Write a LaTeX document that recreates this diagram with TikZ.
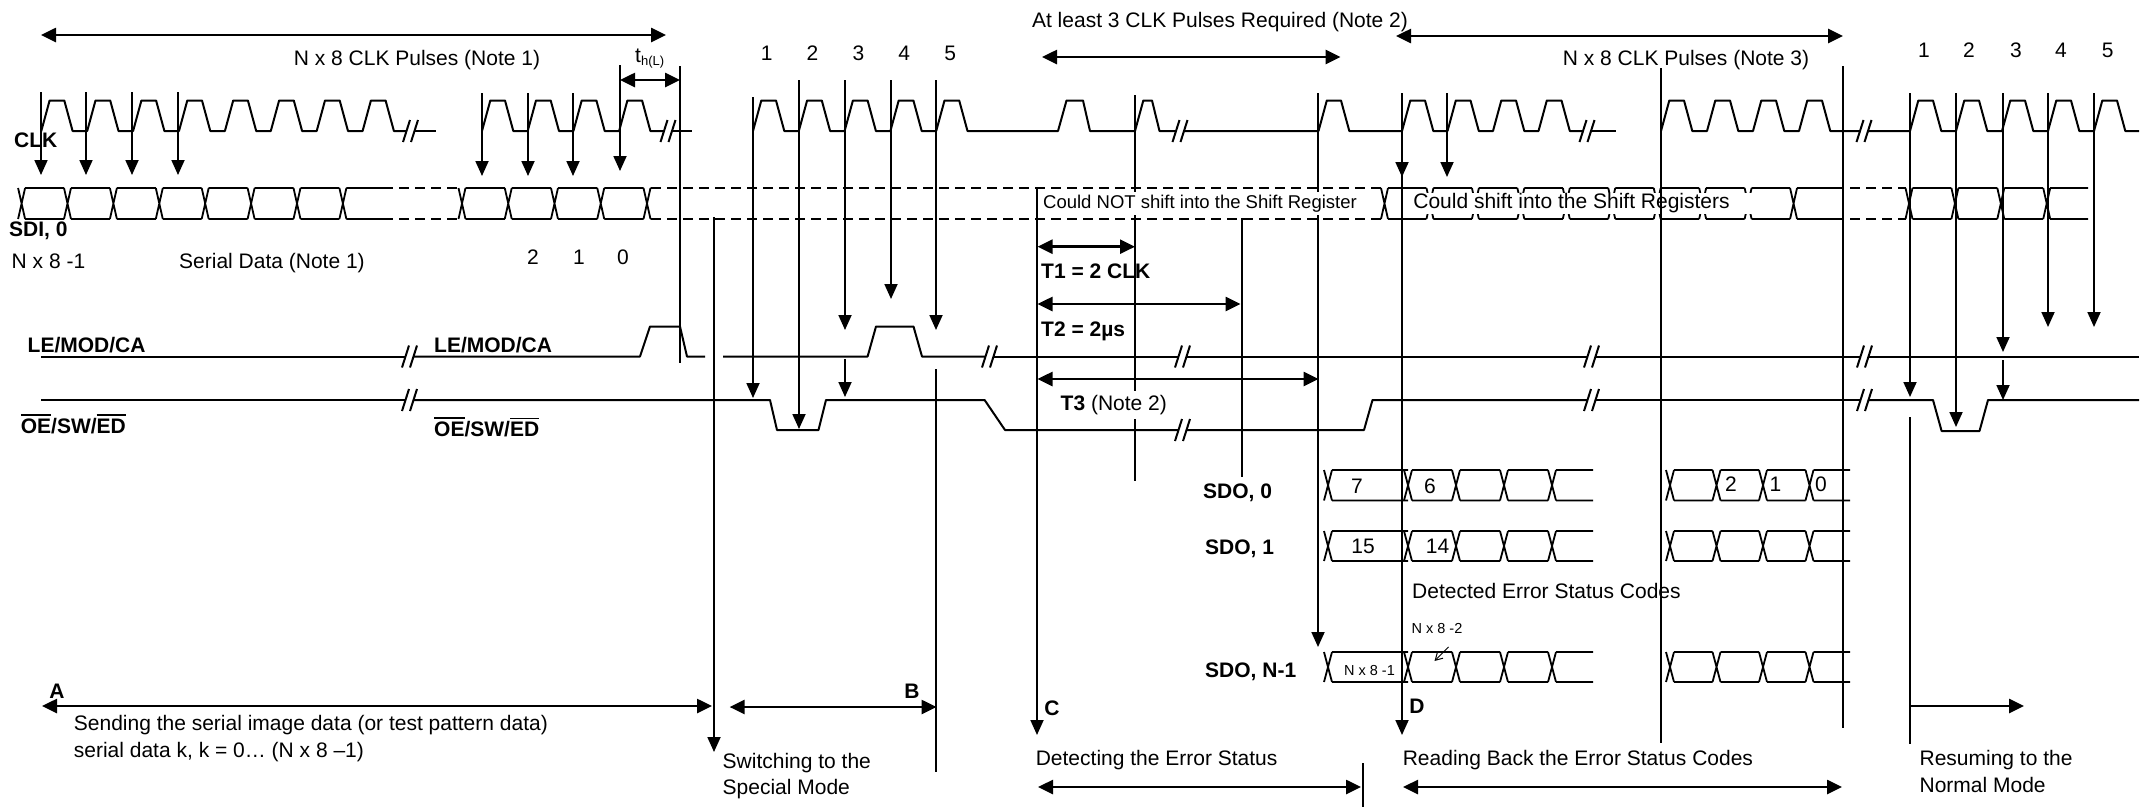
\documentclass[tikz,border=0pt]{standalone}
\usepackage{fontspec}
\setmainfont{Liberation Sans}
\usetikzlibrary{arrows.meta}
\newcommand\fsA{\fontsize{21}{25}\selectfont}
\newcommand\fsM{\fontsize{18.5}{22}\selectfont}
\newcommand\fsS{\fontsize{14.5}{17}\selectfont}
\newcommand\ovl[1]{\vbox{\hrule height 1.8pt\kern 2.6pt\hbox{#1}}}
\newcommand\wbrk[2]{\draw[wave] (#1,#2+11) -- (#1+7,#2-11) (#1+8,#2+11) -- (#1+15,#2-11);}
% bus: top, bottom, half width, start, period, count, end
\newcommand\pbus[7]{%
  \foreach \k in {1,...,#6} {%
    \pgfmathsetmacro\bcx{#4+#5*(\k-1)}%
    \pgfmathsetmacro\bnx{ifthenelse(\k==#6, #7+#3, #4+#5*\k)}%
    \draw[bus] (\bcx-#3,#1) -- (\bcx+#3,#2) (\bcx-#3,#2) -- (\bcx+#3,#1)
               (\bcx+#3,#1) -- (\bnx-#3,#1) (\bcx+#3,#2) -- (\bnx-#3,#2);
  }}
\begin{document}
\begin{tikzpicture}[x=1pt,y=-1pt,
  wave/.style={line width=2pt, line join=round},
  bus/.style={line width=1.8pt, line join=round},
  dsh/.style={line width=1.8pt, dash pattern=on 10pt off 6pt},
  vl/.style={line width=1.8pt},
  arr/.style={vl,-{Triangle[width=13pt,length=15pt]}},
  darr/.style={line width=2.6pt,{Triangle[width=14pt,length=15pt]}-{Triangle[width=14pt,length=15pt]}},
  rarr/.style={line width=2.6pt,-{Triangle[width=14pt,length=15pt]}},
  lbl/.style={inner sep=0pt, text height=15pt, text depth=0pt, font=\fsA},
  blbl/.style={lbl, font=\fsA\bfseries},
]
\useasboundingbox (0,0) rectangle (2145,807);

% ---------------- top annotations
\draw[darr] (41,35) -- (666,35);
\node[lbl] (n1) at (417,58) {N x 8 CLK Pulses (Note 1)};
\node[inner sep=0pt, anchor=base west, font=\fsA] (thl) at (635,62) {t\raisebox{-3pt}{\fontsize{13}{13}\selectfont h(L)}};
\draw[darr] (620,80) -- (680,80);
\node[lbl] (n2) at (1220,20) {At least 3 CLK Pulses Required (Note 2)};
\draw[darr] (1042,57) -- (1340.5,57);
\draw[darr] (1396,36) -- (1843,36);
\node[lbl] (n3) at (1686,58) {N x 8 CLK Pulses (Note 3)};
\foreach \x/\t in {766.6/1,812.5/2,858.4/3,904.3/4,950.2/5} \node[lbl] (m\t) at (\x,53) {\t};
\foreach \x/\t in {1924/1,1969/2,2016/3,2061/4,2107.6/5} \node[lbl] (r\t) at (\x,50) {\t};

% ---------------- CLK
\draw[wave] (41.3,131) \foreach \i in {1,...,7}{ -- ++(8.3,-30.5) -- ++(14.7,0) -- ++(8.3,30.5) -- ++(14.6,0) }
  -- ++(8.3,-30.5) -- ++(14.7,0) -- ++(8.3,30.5) -- (406.5,131);
\wbrk{403}{131}
\draw[wave] (414.5,131) -- (436,131);
\draw[wave] (482,131) \foreach \i in {1,...,3}{ -- ++(8.3,-30.5) -- ++(14.7,0) -- ++(8.3,30.5) -- ++(14.4,0) }
  -- ++(8.3,-30.5) -- ++(14.7,0) -- ++(8.3,30.5) -- (664,131);
\wbrk{660.5}{131}
\draw[wave] (672,131) -- (692,131);
\draw[wave] (753,131) \foreach \i in {1,...,4}{ -- ++(8.3,-30.5) -- ++(14.7,0) -- ++(8.3,30.5) -- ++(14.5,0) }
  -- ++(8.3,-30.5) -- ++(14.7,0) -- ++(8.3,30.5) -- (1058,131) -- (1066.5,100.5) -- (1083,100.5) -- (1090,131)
  -- (1135,131) -- (1143.3,100.5) -- (1152,100.5) -- (1159.5,131) -- (1176,131);
\wbrk{1172.5}{131}
\draw[wave] (1184,131) -- (1318.5,131) -- (1326.8,100.5) -- (1341,100.5) -- (1349.3,131) -- (1402,131)
  \foreach \i in {1,...,3}{ -- ++(8.3,-30.5) -- ++(14.7,0) -- ++(8.3,30.5) -- ++(14.2,0) }
  -- ++(8.3,-30.5) -- ++(14.7,0) -- ++(8.3,30.5) -- (1583,131);
\wbrk{1579.5}{131}
\draw[wave] (1591,131) -- (1616,131);
\draw[wave] (1661,131) \foreach \i in {1,...,3}{ -- ++(8.3,-30.5) -- ++(14.7,0) -- ++(8.3,30.5) -- ++(14.7,0) }
  -- ++(8.3,-30.5) -- ++(14.7,0) -- ++(8.3,30.5) -- (1860,131);
\wbrk{1856.5}{131}
\draw[wave] (1868,131) -- (1910,131) \foreach \i in {1,...,4}{ -- ++(8.3,-30.5) -- ++(14.7,0) -- ++(8.3,30.5) -- ++(14.7,0) }
  -- ++(8.3,-30.5) -- ++(14.7,0) -- ++(8.3,30.5) -- (2139,131);
\node[blbl, anchor=west] (clk) at (14,140) {CLK};

% ---------------- SDI
\pbus{188}{219}{3.5}{21.6}{45.9}{8}{383}
\draw[dsh] (383,188) -- (458.5,188) (383,219) -- (458.5,219);
\pbus{188}{219}{3.5}{462}{46.25}{5}{651}
\draw[dsh] (651,188) -- (1381,188) (651,219) -- (1381,219);
\pbus{188}{219}{3.5}{1384.5}{45.45}{10}{1834}
\draw[dsh] (1834,188) -- (1905.5,188) (1834,219) -- (1905.5,219);
\pbus{188}{219}{3.5}{1909}{45.9}{4}{2088}
\node[blbl, anchor=west] (sdi) at (9,229) {SDI, 0};
\node[lbl, anchor=west] (nx81) at (11.5,261) {N x 8 -1};
\node[lbl, anchor=west] (sd) at (179,261) {Serial Data (Note 1)};
\foreach \x/\t in {533/2,579/1,623/0} \node[lbl] (s\t) at (\x,257) {\t};

% ---------------- LE / OE
\draw[wave] (41,356.5) -- (405.5,356.5);
\wbrk{402}{356.5}
\draw[wave] (413.5,356.5) -- (640,356.5) -- (650,326.5) -- (680,326.5) -- (687,356.5) -- (705,356.5);
\draw[wave] (723,356.5) -- (867.6,356.5) -- (876,326.5) -- (913.5,326.5) -- (922,356.5) -- (985.5,356.5);
\wbrk{982}{356.5}
\draw[wave] (993.5,356.5) -- (1178.5,356.5);
\wbrk{1175}{356.5}
\draw[wave] (1186.5,356.5) -- (1587.5,356.5);
\wbrk{1584}{356.5}
\draw[wave] (1595.5,356.5) -- (1860.5,356.5);
\wbrk{1857}{356.5}
\draw[wave] (1868.5,356.5) -- (2139,356.5);

\draw[wave] (41,400) -- (405.5,400);
\wbrk{402}{400}
\draw[wave] (413.5,400) -- (770,400) -- (777,430) -- (818.5,430) -- (826,400) -- (984.6,400) -- (1005,430) -- (1178.5,430);
\wbrk{1175}{430}
\draw[wave] (1186.5,430) -- (1364,430) -- (1372.5,400) -- (1587.5,400);
\wbrk{1584}{400}
\draw[wave] (1595.5,400) -- (1860.5,400);
\wbrk{1857}{400}
\draw[wave] (1868.5,400) -- (1933,400) -- (1941.6,431) -- (1979.5,431) -- (1988,400) -- (2139,400);

\node[blbl, anchor=west] (le1) at (27.5,345) {LE/MOD/CA};
\node[blbl, anchor=west] (le2) at (434,345) {LE/MOD/CA};
\node[blbl, anchor=west] (oe1) at (20.7,425.5) {\ovl{OE}/SW/\ovl{ED}};
\node[blbl, anchor=west] (oe2) at (434,429) {\ovl{OE}/SW/\ovl{ED}};

% ---------------- vertical lines
\foreach \x in {41,86,132,178} \draw[arr] (\x,92) -- (\x,175);
\foreach \x in {482,528,573} \draw[arr] (\x,93) -- (\x,176);
\draw[arr] (620,65) -- (620,171);
\draw[vl] (680,66) -- (680,363);
\draw[arr] (714,217) -- (714,752);
\draw[arr] (753,97) -- (753,398);
\draw[arr] (799,80) -- (799,429);
\draw[arr] (845,80) -- (845,330);
\draw[arr] (845,359) -- (845,397);
\draw[arr] (891,80) -- (891,299);
\draw[arr] (936,80) -- (936,330);
\draw[vl] (936,369) -- (936,772);
\draw[arr] (1037,188) -- (1037,735);
\draw[vl] (1135,95) -- (1135,481);
\draw[vl] (1242,218) -- (1242,477);
\draw[arr] (1318,93) -- (1318,647);
\draw[arr] (1447,93) -- (1447,177);
\draw[arr] (1910,93) -- (1910,397);
\draw[vl] (1910,417) -- (1910,744);
\draw[arr] (1956,93) -- (1956,427);
\draw[arr] (2003,93) -- (2003,352);
\draw[arr] (2003,360) -- (2003,400);
\draw[arr] (2048,93) -- (2048,327);
\draw[arr] (2094,93) -- (2094,327);
\draw[vl] (1843,66) -- (1843,728);
\draw[vl] (1363,763) -- (1363,807);

% texts with white background in the SDI band
\node[fill=white, inner xsep=3pt, inner ysep=2.5pt, text height=14pt, text depth=4pt, anchor=base, font=\fsM] (cns) at (1200,208.3) {Could NOT shift into the Shift Register};
\fill[white] (1389,193) rectangle (1787,214);
\node[inner sep=0pt, anchor=base, font=\fsA] (cs) at (1571.5,208.5) {Could shift into the Shift Registers};
\draw[vl] (1661,68) -- (1661,743);
\draw[arr] (1402,93) -- (1402,735);
\draw[arr] (1402,93) -- (1402,177);

% T1 T2 T3
\draw[darr] (1037.5,246.7) -- (1135,246.7);
\node[blbl, anchor=west] (t1) at (1041,271) {T1 = 2 CLK};
\draw[darr] (1037.5,304) -- (1240.5,304);
\node[blbl, anchor=west] (t2) at (1041,329) {T2 = 2µs};
\draw[darr] (1037.5,379) -- (1318.5,379);
\node[fill=white, inner xsep=2pt, inner ysep=4pt, text height=15pt, text depth=4.5pt, anchor=base west, font=\fsA] (t3) at (1058.5,410) {\textbf{T3} (Note 2)};

% ---------------- SDO rows
\foreach \t/\b in {470/500.5,531/561,652/682} {
  \pbus{\t}{\b}{4}{1328}{80}{1}{1408}
  \pbus{\t}{\b}{4}{1408}{48}{4}{1593}
  \pbus{\t}{\b}{4}{1670}{46.5}{4}{1850}
}
\node[blbl, anchor=west] (sdo0) at (1203,491) {SDO, 0};
\node[blbl, anchor=west] (sdo1) at (1205,547) {SDO, 1};
\node[blbl, anchor=west] (sdon) at (1205,670) {SDO, N-1};
\node[lbl] (v7) at (1357,486) {7};
\node[lbl] (v6) at (1430,486) {6};
\node[lbl] (v15) at (1363,546) {15};
\node[lbl] (v14) at (1437.5,546) {14};
\node[lbl] (v2) at (1731,484) {2};
\node[lbl] (v1) at (1775.5,484) {1};
\node[lbl] (v0) at (1821,484) {0};
\node[lbl, anchor=west] (dec) at (1412,591) {Detected Error Status Codes};
\node[inner sep=0pt, text height=10.4pt, text depth=0pt, font=\fsS] (nx82) at (1437,628) {N x 8 -2};
\node[inner sep=0pt, text height=10.4pt, text depth=0pt, font=\fsS] (nx81b) at (1369.5,670) {N x 8 -1};
\draw[line width=1pt,-{Straight Barb[length=7pt,width=8pt]}] (1448.5,647) -- (1434.5,661);

% ---------------- bottom phases
\node[blbl] (la) at (57,691) {A};
\draw[darr] (42,706) -- (712,706);
\node[lbl, anchor=west] (snd) at (73.7,723.3) {Sending the serial image data (or test pattern data)};
\node[lbl, anchor=west] (sdk) at (73.7,750) {serial data k, k = 0… (N x 8 –1)};
\node[lbl, anchor=west] (sw1) at (722.5,760.5) {Switching to the};
\node[lbl, anchor=west] (sw2) at (722.5,786.7) {Special Mode};
\node[blbl] (lb) at (912,691) {B};
\draw[darr] (729.6,707) -- (936.5,707);
\node[blbl] (lc) at (1052,708) {C};
\node[lbl, anchor=west] (det) at (1035.6,758.3) {Detecting the Error Status};
\draw[darr] (1038,787) -- (1361,787);
\node[blbl] (ld) at (1417,706) {D};
\node[lbl, anchor=west] (rb) at (1402.6,758.3) {Reading Back the Error Status Codes};
\draw[darr] (1403,787) -- (1842,787);
\draw[rarr] (1910,706) -- (2024,706);
\node[lbl, anchor=west] (rs1) at (1919.4,758) {Resuming to the};
\node[lbl, anchor=west] (rs2) at (1919.4,785) {Normal Mode};
\end{tikzpicture}
\end{document}
